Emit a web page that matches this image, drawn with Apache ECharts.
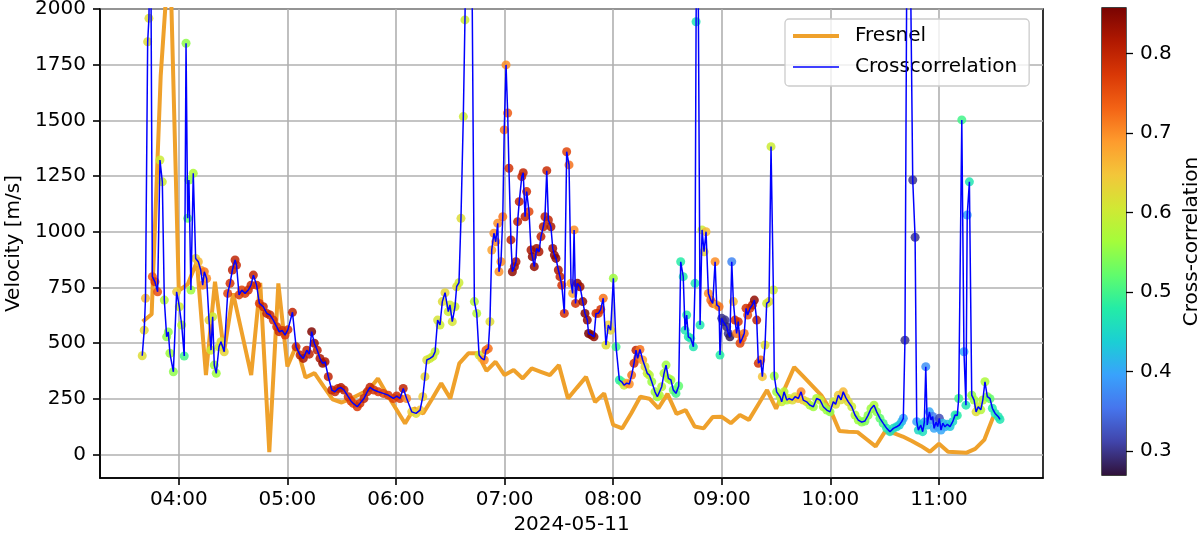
<!DOCTYPE html>
<html>
<head>
<meta charset="utf-8">
<script src="https://cdn.jsdelivr.net/npm/echarts@6/dist/echarts.min.js"></script>
<style>
  html, body { margin: 0; padding: 0; background: #fff; }
  #chart { width: 1200px; height: 537px; }
</style>
</head>
<body>
<div id="chart"></div>
<script>
// day of the measurement
const day = [2024, 4, 11];

// Fresnel velocity, every 5 minutes
const fresnelTimes = [
  '03:40','03:45','03:50','03:55','04:00','04:05','04:10','04:15','04:20','04:25','04:30','04:35',
  '04:40','04:45','04:50','04:55','05:00','05:05','05:10','05:15','05:20','05:25','05:30','05:35',
  '05:40','05:45','05:50','05:55','06:00','06:05','06:10','06:15','06:20','06:25','06:30','06:35',
  '06:40','06:45','06:50','06:55','07:00','07:05','07:10','07:15','07:20','07:25','07:30','07:35',
  '07:40','07:45','07:50','07:55','08:00','08:05','08:10','08:15','08:20','08:25','08:30','08:35',
  '08:40','08:45','08:50','08:55','09:00','09:05','09:10','09:15','09:20','09:25','09:30','09:35',
  '09:40','09:45','09:50','09:55','10:00','10:05','10:10','10:15','10:20','10:25','10:30','10:35',
  '10:40','10:45','10:50','10:55','11:00','11:05','11:10','11:15','11:20','11:25','11:30'
];
const fresnelVelocity = [
  596, 629, 1700, 2300, 735, 765, 865, 356, 775, 460, 723, 540,
  356, 770, 10, 768, 395, 490, 345, 365, 305, 247, 233, 250,
  270, 290, 341, 270, 205, 139, 207, 184, 250, 319, 251, 409,
  454, 454, 375, 416, 356, 379, 341, 386, 371, 356, 401, 251,
  300, 348, 235, 274, 132, 117, 185, 259, 250, 207, 272, 182,
  199, 125, 117, 168, 169, 140, 177, 155, 222, 289, 205, 300,
  392, 350, 308, 265, 200, 105, 102, 100, 68, 36, 100, 95,
  80, 60, 38, 12, 48, 12, 10, 7, 25, 65, 169
];

// Crosscorrelation velocity: minutes after midnight, velocity, correlation coefficient
const xcMinutes = [
  219.8, 220.9, 221.6, 222.8, 223.5, 224.4, 225.4, 226.8, 228.3, 229.6, 230.9, 232.0,
  233.3, 234.2, 235.1, 237.0, 238.8, 240.3, 241.6, 243.0, 244.0, 244.9, 245.6, 246.7,
  248.0, 249.3, 250.8, 252.1, 253.2, 254.1, 255.4, 256.7, 257.8, 258.7, 259.6, 260.7,
  262.2, 263.3, 265.1, 267.0, 268.3, 269.6, 271.1, 271.9, 273.3, 274.8, 276.6, 278.4,
  279.9, 281.2, 283.0, 284.5, 286.7, 288.6, 290.4, 292.2, 294.1, 295.4, 297.2, 298.7,
  300.3, 302.8, 304.8, 307.0, 308.8, 310.7, 312.1, 313.4, 314.9, 316.5, 318.0, 319.5,
  320.8, 322.6, 324.5, 326.3, 328.0, 329.6, 331.3, 333.6, 335.1, 336.4, 338.6, 340.1,
  342.3, 344.1, 345.6, 347.8, 350.2, 353.0, 355.7, 358.5, 360.4, 362.2, 364.0, 365.9,
  368.7, 371.1, 373.3, 374.8, 376.0, 377.0, 378.8, 380.4, 381.6, 383.0, 384.3, 385.6,
  387.1, 388.9, 389.8, 391.1, 392.6, 393.5, 394.8, 395.9, 397.2, 398.1, 399.5, 401.7,
  403.3, 404.6, 405.9, 407.4, 408.8, 409.7, 411.0, 411.9, 412.9, 414.1, 415.1, 416.2,
  416.9, 418.0, 419.0, 419.8, 420.8, 421.7, 422.4, 423.5, 424.3, 425.4, 426.3, 427.2,
  428.1, 429.5, 430.3, 431.3, 432.2, 433.5, 434.6, 435.3, 436.4, 437.7, 439.0, 440.1,
  441.4, 442.3, 443.3, 444.2, 445.6, 446.6, 447.5, 448.4, 449.7, 450.6, 451.6, 453.0,
  454.3, 455.6, 456.7, 457.6, 458.4, 459.2, 460.2, 461.7, 463.2, 464.4, 465.7, 466.4,
  468.1, 469.4, 470.5, 471.8, 473.1, 474.5, 476.0, 477.3, 478.6, 480.1, 481.6, 483.4,
  484.7, 486.0, 487.5, 488.9, 490.2, 491.5, 492.6, 493.5, 494.8, 496.3, 497.6, 498.8,
  500.0, 501.3, 503.1, 504.4, 505.5, 506.8, 508.1, 509.2, 510.5, 511.9, 513.2, 514.7,
  516.2, 517.3, 518.7, 519.7, 520.6, 521.5, 522.8, 524.3, 525.2, 525.8, 526.6, 528.0,
  529.1, 530.2, 531.3, 532.6, 533.9, 535.0, 536.3, 537.2, 538.5, 539.0, 540.0, 540.8,
  541.8, 542.7, 543.6, 544.5, 545.5, 546.4, 547.3, 548.2, 549.1, 550.1, 551.3, 552.4,
  553.4, 554.3, 555.6, 556.9, 558.0, 559.3, 560.2, 561.5, 562.4, 563.9, 564.8, 566.1,
  567.2, 568.5, 569.0, 570.3, 572.2, 573.1, 574.4, 575.9, 577.1, 579.0, 580.5, 582.3,
  583.8, 585.0, 586.9, 588.7, 590.6, 592.4, 594.3, 596.1, 598.0, 599.8, 601.6, 602.9,
  604.4, 605.9, 607.1, 608.5, 609.9, 611.8, 613.6, 615.4, 617.3, 619.1, 620.8, 622.4,
  624.1, 625.6, 627.4, 629.2, 631.1, 632.9, 634.8, 636.6, 638.1, 639.4, 640.3, 641.2,
  642.1, 643.7, 645.5, 646.8, 647.7, 648.6, 649.9, 651.0, 651.9, 652.7, 653.5, 654.7,
  655.6, 656.5, 657.3, 658.4, 659.3, 660.2, 661.1, 662.1, 663.3, 664.6, 666.1, 667.6,
  668.9, 670.1, 670.9, 672.6, 673.8, 674.9, 675.6, 676.8, 678.1, 679.4, 680.5, 681.7,
  683.1, 684.2, 685.4, 686.7, 688.2, 689.5, 691.0, 692.8, 693.7
];
const xcVelocity = [
  443, 558, 701, 1853, 1958, 2500, 798, 775, 730, 1322, 1224, 693,
  528, 550, 454, 371, 730, 663, 581, 442, 1846, 1060, 1232, 738,
  1262, 880, 865, 828, 760, 820, 790, 603, 468, 618, 401, 364,
  483, 506, 461, 723, 768, 828, 873, 850, 716, 738, 723, 738,
  760, 805, 760, 678, 663, 633, 626, 603, 573, 551, 556, 536,
  560, 638, 483, 446, 431, 468, 450, 551, 499, 468, 431, 409,
  416, 349, 289, 281, 296, 300, 289, 259, 240, 229, 214, 229,
  251, 281, 301, 289, 281, 274, 266, 251, 262, 251, 296, 251,
  191, 184, 199, 259, 349, 424, 431, 440, 461, 603, 581, 686,
  726, 641, 671, 596, 663, 753, 771, 1060, 1517, 1951, 2700, 2500,
  686, 633, 446, 431, 424, 468, 475, 596, 918, 993, 955, 1038,
  820, 865, 1067, 1457, 1749, 1533, 1285, 963, 820, 843, 865, 1045,
  1135, 1247, 1265, 1067, 1180, 1090, 918, 888, 843, 925, 910, 978,
  1022, 1067, 1274, 1053, 1022, 925, 895, 880, 828, 798, 760, 633,
  1359, 1300, 768, 723, 1008, 678, 768, 753, 686, 633, 603, 543,
  536, 528, 633, 633, 651, 701, 491, 581, 558, 791, 483, 334,
  326, 311, 320, 316, 356, 409, 468, 431, 471, 424, 394, 364,
  356, 326, 281, 259, 266, 304, 364, 401, 341, 334, 289, 274,
  307, 865, 798, 558, 626, 528, 521, 483, 768, 1943, 2700, 581,
  1008, 910, 1000, 723, 693, 678, 865, 671, 663, 446, 611, 596,
  603, 573, 543, 528, 865, 686, 603, 543, 596, 499, 521, 543,
  656, 626, 656, 671, 693, 603, 409, 424, 349, 491, 678, 686,
  1382, 738, 352, 281, 259, 236, 281, 244, 251, 244, 259, 251,
  281, 244, 236, 221, 214, 251, 244, 214, 199, 191, 236, 225,
  266, 245, 281, 255, 236, 214, 177, 154, 145, 150, 175, 205,
  221, 191, 162, 139, 117, 102, 117, 124, 132, 147, 162, 513,
  2005, 2600, 1232, 975, 147, 109, 132, 102, 145, 394, 132, 191,
  155, 170, 117, 145, 125, 162, 109, 140, 124, 135, 125, 147,
  177, 175, 251, 1502, 461, 221, 1075, 1224, 266, 244, 191, 214,
  200, 244, 326, 259, 250, 207, 184, 169, 157
];
const xcCorr = [
  0.62, 0.63, 0.66, 0.62, 0.62, 0.60, 0.74, 0.77, 0.75, 0.60, 0.60, 0.58,
  0.55, 0.55, 0.56, 0.55, 0.64, 0.60, 0.58, 0.50, 0.55, 0.52, 0.55, 0.56,
  0.57, 0.63, 0.66, 0.68, 0.70, 0.72, 0.70, 0.63, 0.60, 0.60, 0.56, 0.56,
  0.60, 0.62, 0.63, 0.76, 0.78, 0.80, 0.80, 0.79, 0.77, 0.76, 0.77, 0.78,
  0.79, 0.80, 0.78, 0.77, 0.79, 0.80, 0.79, 0.78, 0.78, 0.79, 0.78, 0.77,
  0.78, 0.80, 0.79, 0.80, 0.82, 0.80, 0.80, 0.85, 0.83, 0.80, 0.82, 0.84,
  0.82, 0.80, 0.80, 0.79, 0.80, 0.81, 0.80, 0.78, 0.77, 0.76, 0.77, 0.78,
  0.80, 0.79, 0.80, 0.78, 0.77, 0.76, 0.77, 0.76, 0.78, 0.77, 0.80, 0.70,
  0.64, 0.62, 0.65, 0.64, 0.63, 0.62, 0.60, 0.60, 0.59, 0.61, 0.60, 0.62,
  0.63, 0.60, 0.60, 0.61, 0.60, 0.62, 0.60, 0.62, 0.60, 0.60, 0.60, 0.60,
  0.58, 0.58, 0.60, 0.65, 0.70, 0.74, 0.72, 0.62, 0.68, 0.70, 0.70, 0.70,
  0.70, 0.70, 0.72, 0.72, 0.70, 0.74, 0.78, 0.80, 0.84, 0.83, 0.82, 0.80,
  0.80, 0.79, 0.80, 0.80, 0.78, 0.76, 0.82, 0.84, 0.84, 0.83, 0.82, 0.80,
  0.80, 0.80, 0.79, 0.80, 0.82, 0.83, 0.84, 0.84, 0.82, 0.80, 0.78, 0.78,
  0.76, 0.72, 0.68, 0.68, 0.70, 0.78, 0.84, 0.83, 0.84, 0.85, 0.84, 0.86,
  0.85, 0.84, 0.78, 0.77, 0.78, 0.72, 0.62, 0.64, 0.63, 0.56, 0.50, 0.48,
  0.50, 0.60, 0.68, 0.70, 0.72, 0.78, 0.80, 0.75, 0.72, 0.68, 0.62, 0.60,
  0.58, 0.56, 0.56, 0.56, 0.57, 0.58, 0.57, 0.56, 0.57, 0.56, 0.53, 0.50,
  0.52, 0.48, 0.48, 0.47, 0.48, 0.47, 0.47, 0.47, 0.47, 0.47, 0.50, 0.47,
  0.60, 0.63, 0.66, 0.70, 0.72, 0.74, 0.70, 0.66, 0.72, 0.48, 0.30, 0.29,
  0.30, 0.29, 0.30, 0.28, 0.37, 0.66, 0.78, 0.72, 0.78, 0.76, 0.74, 0.72,
  0.78, 0.75, 0.78, 0.80, 0.84, 0.80, 0.78, 0.72, 0.65, 0.62, 0.60, 0.62,
  0.60, 0.60, 0.56, 0.56, 0.57, 0.60, 0.58, 0.57, 0.60, 0.62, 0.62, 0.66,
  0.70, 0.65, 0.62, 0.58, 0.56, 0.57, 0.60, 0.57, 0.56, 0.55, 0.60, 0.62,
  0.64, 0.62, 0.66, 0.64, 0.62, 0.60, 0.57, 0.56, 0.55, 0.54, 0.55, 0.56,
  0.57, 0.55, 0.52, 0.50, 0.48, 0.46, 0.46, 0.45, 0.44, 0.42, 0.40, 0.30,
  0.30, 0.30, 0.30, 0.30, 0.40, 0.45, 0.43, 0.46, 0.42, 0.38, 0.42, 0.40,
  0.38, 0.36, 0.40, 0.36, 0.38, 0.32, 0.40, 0.42, 0.40, 0.42, 0.43, 0.45,
  0.47, 0.48, 0.50, 0.50, 0.40, 0.47, 0.40, 0.47, 0.55, 0.56, 0.62, 0.60,
  0.58, 0.58, 0.57, 0.55, 0.52, 0.48, 0.47, 0.47, 0.47
];

// axes
const xTickLabels = ['04:00', '05:00', '06:00', '07:00', '08:00', '09:00', '10:00', '11:00'];
const xRange = ['03:16:28', '11:57:28'];
const yTicks = [0, 250, 500, 750, 1000, 1250, 1500, 1750, 2000];
const yRange = [-106, 2000];
const cbTicks = [0.3, 0.4, 0.5, 0.6, 0.7, 0.8];
const cbRange = [0.27, 0.857];

// turbo colormap
const turbo = ['#30123b', '#4145ab', '#4675ed', '#39a2fc', '#1bcfd4', '#24eca6', '#61fc6c',
  '#a4fc3b', '#d1e834', '#f3c63a', '#fe9b2d', '#f36315', '#d93806', '#b11901', '#7a0402'];

const dayStart = new Date(day[0], day[1], day[2]).getTime();
function clock(s) {
  const p = s.split(':').map(Number);
  return dayStart + (p[0] * 3600 + p[1] * 60 + (p[2] || 0)) * 1000;
}
const pad = n => String(n).padStart(2, '0');

const fresnelData = fresnelTimes.map((t, i) => [clock(t), fresnelVelocity[i]]);
const xcLine = xcMinutes.map((m, i) => [dayStart + m * 60000, xcVelocity[i]]);
const xcPoints = xcMinutes.map((m, i) => [dayStart + m * 60000, xcVelocity[i], xcCorr[i]]);

const font = 'DejaVu Sans';
const fresnelColor = '#efa12b';
const chart = echarts.init(document.getElementById('chart'));

chart.setOption({
  animation: false,
  textStyle: { fontFamily: font, color: '#000' },
  grid: [
    { left: 100, top: 9, right: 157, bottom: 59, outerBoundsMode: 'none', containLabel: false,
      show: true, borderColor: '#000', borderWidth: 1.6 },
    { left: 1102, top: 8, width: 24, height: 467, outerBoundsMode: 'none', containLabel: false,
      show: true, borderColor: '#000', borderWidth: 1.3 }
  ],
  legend: {
    data: [
      { name: 'Fresnel', lineStyle: { width: 4, color: fresnelColor } },
      { name: 'Crosscorrelation', lineStyle: { width: 1.5, color: '#0000ff' } }
    ],
    orient: 'vertical',
    left: 785,
    top: 19,
    itemWidth: 46,
    itemHeight: 14,
    itemGap: 11,
    padding: [7, 12, 9, 6],
    backgroundColor: 'rgba(255,255,255,0.8)',
    borderColor: '#cccccc',
    borderWidth: 1.3,
    borderRadius: 4,
    itemStyle: { opacity: 0 },
    textStyle: { fontFamily: font, fontSize: 20, color: '#000', padding: [0, 0, 0, 11] }
  },
  visualMap: {
    type: 'continuous',
    show: false,
    seriesIndex: 1,
    dimension: 2,
    min: cbRange[0],
    max: cbRange[1],
    inRange: { color: turbo }
  },
  xAxis: [
    {
      type: 'value',
      gridIndex: 0,
      min: clock(xRange[0]),
      max: clock(xRange[1]),
      name: '2024-05-11',
      nameLocation: 'middle',
      nameGap: 35,
      nameTextStyle: { fontFamily: font, fontSize: 20, color: '#000' },
      axisLine: { onZero: false, lineStyle: { color: '#000', width: 1.6 } },
      axisTick: { length: 7, lineStyle: { color: '#000', width: 1.6 }, customValues: xTickLabels.map(clock) },
      axisLabel: {
        fontFamily: font, fontSize: 20, color: '#000', margin: 12,
        customValues: xTickLabels.map(clock),
        formatter: v => { const d = new Date(v); return pad(d.getHours()) + ':' + pad(d.getMinutes()); }
      },
      splitLine: { show: true, lineStyle: { color: '#b0b0b0', width: 1.6 } }
    },
    { type: 'category', gridIndex: 1, data: ['cb'], show: false }
  ],
  yAxis: [
    {
      type: 'value',
      gridIndex: 0,
      min: yRange[0],
      max: yRange[1],
      name: 'Velocity [m/s]',
      nameLocation: 'middle',
      nameGap: 75,
      nameRotate: 90,
      nameTextStyle: { fontFamily: font, fontSize: 20, color: '#000' },
      axisLine: { show: true, onZero: false, lineStyle: { color: '#000', width: 1.6 } },
      axisTick: { show: true, length: 7, lineStyle: { color: '#000', width: 1.6 }, customValues: yTicks },
      axisLabel: { fontFamily: font, fontSize: 20, color: '#000', margin: 14, customValues: yTicks, formatter: v => String(v) },
      splitLine: { show: true, lineStyle: { color: '#b0b0b0', width: 1.6 } }
    },
    {
      type: 'value',
      gridIndex: 1,
      position: 'right',
      min: cbRange[0],
      max: cbRange[1],
      name: 'Cross-correlation',
      nameLocation: 'middle',
      nameGap: 56,
      nameRotate: 90,
      nameTextStyle: { fontFamily: font, fontSize: 20, color: '#000' },
      axisLine: { show: false },
      axisTick: { show: true, length: 7, lineStyle: { color: '#000', width: 1.3 }, customValues: cbTicks },
      axisLabel: { fontFamily: font, fontSize: 20, color: '#000', margin: 14, customValues: cbTicks, formatter: v => v.toFixed(1) },
      splitLine: { show: false }
    }
  ],
  series: [
    {
      name: 'Fresnel',
      type: 'line',
      data: fresnelData,
      symbol: 'none',
      lineStyle: { color: fresnelColor, width: 4 },
      itemStyle: { color: fresnelColor },
      z: 2
    },
    {
      name: 'xcorr points',
      type: 'scatter',
      data: xcPoints,
      symbolSize: 9,
      itemStyle: { opacity: 0.85 },
      z: 3
    },
    {
      name: 'Crosscorrelation',
      type: 'line',
      data: xcLine,
      symbol: 'none',
      lineStyle: { color: '#0000ff', width: 1.5 },
      itemStyle: { color: '#0000ff' },
      z: 4
    },
    {
      name: 'cb base',
      type: 'bar',
      xAxisIndex: 1,
      yAxisIndex: 1,
      stack: 'cb',
      barWidth: '100%',
      silent: true,
      data: [cbRange[0]],
      itemStyle: { color: 'rgba(0,0,0,0)' }
    },
    {
      name: 'cb bar',
      type: 'bar',
      xAxisIndex: 1,
      yAxisIndex: 1,
      stack: 'cb',
      barWidth: '100%',
      silent: true,
      data: [cbRange[1] - cbRange[0]],
      itemStyle: {
        color: new echarts.graphic.LinearGradient(0, 1, 0, 0,
          turbo.map((c, i) => ({ offset: i / (turbo.length - 1), color: c })))
      }
    }
  ]
});
</script>
</body>
</html>
